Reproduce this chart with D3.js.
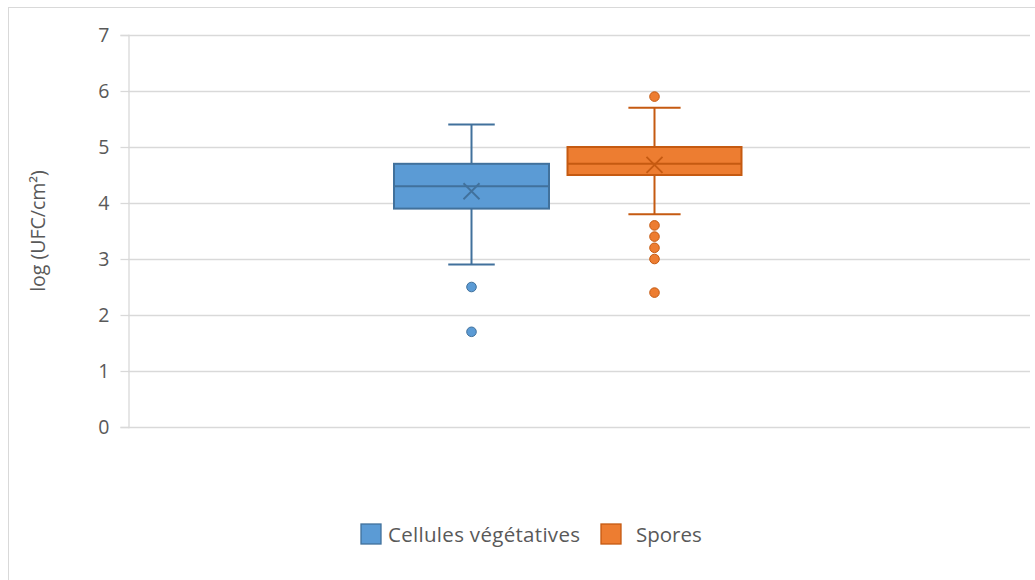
<!DOCTYPE html>
<html>
<head>
<meta charset="utf-8">
<script src="https://cdn.jsdelivr.net/npm/d3@7"></script>
<style>
  body { margin: 0; background: #fff; }
  svg text { font-family: "Open Sans", "Noto Sans", sans-serif; fill: #595959; }
</style>
</head>
<body>
<div id="chart"></div>
<script>
const width = 1035;
const height = 580;

// data
const series = ["Cellules végétatives", "Spores"];
const q1 = [3.9, 4.5];
const medians = [4.3, 4.7];
const q3 = [4.7, 5.0];
const whiskerLow = [2.9, 3.8];
const whiskerHigh = [5.4, 5.7];
const means = [4.21, 4.68];
const outliers = [[2.5, 1.7], [5.9, 3.6, 3.4, 3.2, 3.0, 2.4]];
const yTicks = [0, 1, 2, 3, 4, 5, 6, 7];

const fills = ["#5b9bd5", "#ed7d31"];
const strokes = ["#41719c", "#c55a11"];
const boxWidths = [155, 174];

const plot = {left: 128, right: 1030, top: 35, bottom: 427};

const svg = d3.select("#chart").append("svg")
    .attr("width", width)
    .attr("height", height);

svg.append("rect")
    .attr("x", 8.5).attr("y", 7.5)
    .attr("width", 1040).attr("height", 590)
    .attr("fill", "none")
    .attr("stroke", "#d9d9d9");

const y = d3.scaleLinear().domain([0, 7]).range([plot.bottom, plot.top]);

const xSeries = d3.scaleBand()
    .domain(series)
    .range([380, 746])
    .paddingInner(0.1)
    .paddingOuter(0.05);

// gridlines
svg.append("g").selectAll("line")
    .data(yTicks.filter(d => d > 0))
    .enter().append("line")
    .attr("x1", plot.left).attr("x2", plot.right)
    .attr("y1", d => y(d) + 0.5).attr("y2", d => y(d) + 0.5)
    .attr("stroke", "#d9d9d9")
    .attr("stroke-width", 1.3);

// y axis
const yAxis = svg.append("g")
    .attr("transform", `translate(${plot.left + 0.5},0)`)
    .call(d3.axisLeft(y).tickValues(yTicks).tickSize(8).tickPadding(11).tickFormat(d3.format("d")));
yAxis.select(".domain").attr("stroke", "#d9d9d9").attr("stroke-width", 1.3);
yAxis.selectAll(".tick line").attr("stroke", "#d9d9d9").attr("stroke-width", 1.3);
yAxis.selectAll(".tick text")
    .attr("font-size", 19.5)
    .attr("fill", "#595959")
    .style("font-family", "'Open Sans', sans-serif");

// x axis line
svg.append("line")
    .attr("x1", plot.left).attr("x2", plot.right)
    .attr("y1", y(0) + 0.5).attr("y2", y(0) + 0.5)
    .attr("stroke", "#d9d9d9")
    .attr("stroke-width", 1.3);

svg.append("text")
    .attr("transform", `translate(45,${(plot.top + plot.bottom) / 2}) rotate(-90)`)
    .attr("text-anchor", "middle")
    .attr("font-size", 19.5)
    .text("log (UFC/cm²)");

// boxes
series.forEach((s, i) => {
    const cx = xSeries(s) + xSeries.bandwidth() / 2;
    const bw = boxWidths[i];
    const x0 = cx - bw / 2;
    const capW = bw * 0.3;
    const g = svg.append("g");

    // whiskers
    g.append("line")
        .attr("x1", cx).attr("x2", cx)
        .attr("y1", y(whiskerHigh[i])).attr("y2", y(q3[i]))
        .attr("stroke", strokes[i]).attr("stroke-width", 2);
    g.append("line")
        .attr("x1", cx).attr("x2", cx)
        .attr("y1", y(q1[i])).attr("y2", y(whiskerLow[i]))
        .attr("stroke", strokes[i]).attr("stroke-width", 2);
    [whiskerHigh[i], whiskerLow[i]].forEach(v => {
        g.append("line")
            .attr("x1", cx - capW / 2).attr("x2", cx + capW / 2)
            .attr("y1", y(v)).attr("y2", y(v))
            .attr("stroke", strokes[i]).attr("stroke-width", 2);
    });

    g.append("rect")
        .attr("x", x0).attr("y", y(q3[i]))
        .attr("width", bw).attr("height", y(q1[i]) - y(q3[i]))
        .attr("fill", fills[i])
        .attr("stroke", strokes[i]).attr("stroke-width", 2);

    g.append("line")
        .attr("x1", x0).attr("x2", x0 + bw)
        .attr("y1", y(medians[i])).attr("y2", y(medians[i]))
        .attr("stroke", strokes[i]).attr("stroke-width", 2);

    // mean marker
    const m = y(means[i]);
    const r = 8;
    g.append("path")
        .attr("d", `M${cx - r},${m - r}L${cx + r},${m + r}M${cx - r},${m + r}L${cx + r},${m - r}`)
        .attr("stroke", strokes[i]).attr("stroke-width", 1.8)
        .attr("fill", "none");

    g.selectAll("circle")
        .data(outliers[i])
        .enter().append("circle")
        .attr("cx", cx).attr("cy", d => y(d))
        .attr("r", 4.8)
        .attr("fill", fills[i])
        .attr("stroke", strokes[i]).attr("stroke-width", 1);
});

// legend
const legendItems = [
    {name: series[0], x: 361, tx: 388},
    {name: series[1], x: 601, tx: 636}
];
legendItems.forEach((d, i) => {
    svg.append("rect")
        .attr("x", d.x).attr("y", 524)
        .attr("width", 20).attr("height", 20)
        .attr("fill", fills[i])
        .attr("stroke", strokes[i]).attr("stroke-width", 1.3);
    svg.append("text")
        .attr("x", d.tx).attr("y", 542)
        .attr("font-size", 20.5)
        .attr("textLength", i === 0 ? 192 : null)
        .text(d.name);
});
</script>
</body>
</html>
